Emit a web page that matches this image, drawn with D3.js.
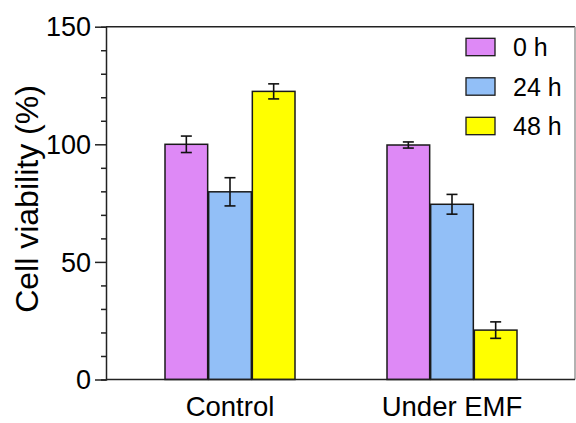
<!DOCTYPE html>
<html>
<head>
<meta charset="utf-8">
<script src="https://cdn.jsdelivr.net/npm/d3@7"></script>
<style>
  body { margin: 0; background: #fff; }
  svg text { font-family: "Liberation Sans", Arial, sans-serif; fill: #000; }
</style>
</head>
<body>
<svg id="chart" width="576" height="423"></svg>
<script>
// data
const groups = ["Control", "Under EMF"];
const series = ["0 h", "24 h", "48 h"];
const colors = ["#DE89F6", "#92BFF7", "#FFFF00"];
const means = [
  [100, 79.8, 122.5],
  [99.7, 74.5, 21]
];
const errors = [
  [3.5, 6, 3.2],
  [1.3, 4.2, 3.5]
];
const yTicks = [0, 50, 100, 150];

const svg = d3.select("#chart");
const plotLeft = 106, plotRight = 575, plotTop = 26.7, plotBottom = 379.5;

// scales
const x0 = d3.scaleBand().domain(groups).range([119, 563]).padding(0);
const x1 = d3.scaleBand().domain(series).range([-65.5, 65.5]).padding(0);
const y = d3.scaleLinear().domain([0, 150]).range([plotBottom, plotTop]);

// frame: top and right edges
svg.append("line")
  .attr("x1", plotLeft).attr("x2", plotRight)
  .attr("y1", plotTop).attr("y2", plotTop)
  .attr("stroke", "#222").attr("stroke-width", 1.5);
svg.append("line")
  .attr("x1", plotRight).attr("x2", plotRight)
  .attr("y1", plotTop).attr("y2", plotBottom)
  .attr("stroke", "#999").attr("stroke-width", 1.5);

// bars
const rows = [];
groups.forEach((g, gi) => series.forEach((s, si) => {
  rows.push({ g, s, si, v: means[gi][si], e: errors[gi][si] });
}));

const barG = svg.append("g");
barG.selectAll("rect")
  .data(rows)
  .enter()
  .append("rect")
  .attr("x", d => x0(d.g) + x0.bandwidth() / 2 + x1(d.s) + 0.5)
  .attr("y", d => y(d.v))
  .attr("width", x1.bandwidth() - 1)
  .attr("height", d => y(0) - y(d.v))
  .attr("fill", d => colors[d.si])
  .attr("stroke", "#1a1a1a")
  .attr("stroke-width", 1.5);

// error bars
const errG = svg.append("g").attr("stroke", "#111").attr("stroke-width", 1.6);
rows.forEach(d => {
  const cx = x0(d.g) + x0.bandwidth() / 2 + x1(d.s) + x1.bandwidth() / 2;
  errG.append("line").attr("x1", cx).attr("x2", cx)
    .attr("y1", y(d.v + d.e)).attr("y2", y(d.v - d.e));
  [d.v + d.e, d.v - d.e].forEach(v => {
    errG.append("line").attr("x1", cx - 5.5).attr("x2", cx + 5.5)
      .attr("y1", y(v)).attr("y2", y(v));
  });
});

// y axis with minor ticks
const yAxis = svg.append("g")
  .attr("transform", `translate(${plotLeft},0)`)
  .call(d3.axisLeft(y).tickValues(d3.range(0, 151, 10)).tickSize(5).tickFormat(""));
yAxis.selectAll(".tick line")
  .attr("x2", v => yTicks.includes(v) ? -11 : -5)
  .attr("stroke", "#222").attr("stroke-width", 1.5);
yAxis.select(".domain").attr("stroke", "#222").attr("stroke-width", 1.5);

svg.append("g").selectAll("text")
  .data(yTicks)
  .enter()
  .append("text")
  .attr("x", plotLeft - 15)
  .attr("y", d => y(d))
  .attr("dy", "0.36em")
  .attr("text-anchor", "end")
  .attr("font-size", "27px")
  .text(d => d);

// x axis
svg.append("line")
  .attr("x1", plotLeft).attr("x2", plotRight)
  .attr("y1", plotBottom).attr("y2", plotBottom)
  .attr("stroke", "#222").attr("stroke-width", 1.5);

svg.append("g").selectAll("text")
  .data(groups)
  .enter()
  .append("text")
  .attr("x", d => x0(d) + x0.bandwidth() / 2)
  .attr("y", 416)
  .attr("text-anchor", "middle")
  .attr("font-size", "27.5px")
  .text(d => d);

// y axis label
svg.append("text")
  .attr("transform", "rotate(-90)")
  .attr("x", -199)
  .attr("y", 38)
  .attr("text-anchor", "middle")
  .attr("font-size", "32px")
  .text("Cell viability (%)");

// legend
const legend = svg.append("g");
series.forEach((s, i) => {
  const ly = 47 + i * 39.5;
  legend.append("rect")
    .attr("x", 466).attr("y", ly - 8.7)
    .attr("width", 29).attr("height", 17.4)
    .attr("fill", colors[i])
    .attr("stroke", "#1a1a1a").attr("stroke-width", 1.3);
  legend.append("text")
    .attr("x", 513).attr("y", ly)
    .attr("dy", "0.36em")
    .attr("font-size", "25px")
    .text(s);
});
</script>
</body>
</html>
